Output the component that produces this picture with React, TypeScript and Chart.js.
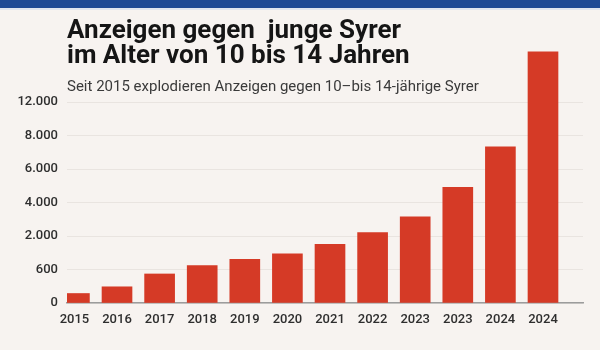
import React, { useEffect, useRef } from "react";
import { Chart, registerables } from "chart.js";

Chart.register(...registerables);

const years = ["2015", "2016", "2017", "2018", "2019", "2020", "2021", "2022", "2023", "2023", "2024", "2024"];
const reports = [170, 290, 520, 760, 1030, 1250, 1650, 2200, 3150, 4900, 7330, 18000];
const yTickValues = [0, 600, 2000, 4000, 6000, 8000, 12000];
const yTickLabels = ["0", "600", "2.000", "4.000", "6.000", "8.000", "12.000"];

const titleLines = ["Anzeigen gegen\u00a0 junge Syrer", "im Alter von 10 bis 14 Jahren"];
const subtitle = "Seit 2015 explodieren Anzeigen gegen 10–bis 14-jährige Syrer";

// The printed axis is evenly spaced between unevenly valued ticks: map a value to its tick position.
function toAxisPos(v: number): number {
  const t = yTickValues;
  for (let i = 1; i < t.length; i++) {
    if (v <= t[i]) return i - 1 + (v - t[i - 1]) / (t[i] - t[i - 1]);
  }
  const n = t.length - 1;
  return n + (v - t[n]) / (t[n] - t[n - 1]);
}

const FONT = "Roboto, 'Noto Sans', sans-serif";

export default function App() {
  const ref = useRef<HTMLCanvasElement | null>(null);

  useEffect(() => {
    if (!ref.current) return;
    const chart = new Chart(ref.current, {
      type: "bar",
      data: {
        datasets: [
          {
            data: reports.map((v, i) => ({ x: i, y: toAxisPos(v) })),
            backgroundColor: "#d53a26",
            borderWidth: 0,
            barThickness: 30,
          },
        ],
      },
      options: {
        animation: false,
        responsive: false,
        maintainAspectRatio: false,
        layout: { padding: { top: 48, right: 17, left: 0, bottom: 0 } },
        plugins: { legend: { display: false }, tooltip: { enabled: false }, title: { display: false } },
        scales: {
          x: {
            type: "linear",
            offset: false,
            min: -0.174,
            max: 11.939,
            grid: { display: false, drawTicks: false, offset: false },
            border: { display: true, color: "#9c9c9c", width: 1.5 },
            afterBuildTicks: (scale: any) => {
              scale.ticks = years.map((_, i) => ({ value: i }));
            },
            afterFit: (scale: any) => {
              scale.height = 47;
              scale.paddingLeft = 0;
              scale.paddingRight = 0;
            },
            ticks: {
              autoSkip: false,
              maxRotation: 0,
              padding: 9,
              color: "#2e2e2e",
              font: { family: FONT, size: 13, weight: "500" },
              callback: (_v: any, i: number) => years[i],
            },
          },
          y: {
            type: "linear",
            min: 0,
            max: 7.612,
            grid: { color: "#e9e4e0", lineWidth: 1, drawTicks: false },
            border: { display: false },
            afterBuildTicks: (scale: any) => {
              scale.ticks = yTickValues.map((_, i) => ({ value: i }));
            },
            afterFit: (scale: any) => {
              scale.width = 67;
              scale.paddingTop = 0;
              scale.paddingBottom = 0;
            },
            ticks: {
              padding: 9,
              color: "#2e2e2e",
              font: { family: FONT, size: 13, weight: "500" },
              callback: (_v: any, i: number) => yTickLabels[i],
            },
          },
        },
      } as any,
    });
    return () => chart.destroy();
  }, []);

  return (
    <div
      style={{
        position: "fixed",
        left: 0,
        top: 0,
        width: 600,
        height: 350,
        background: "#f7f3f0",
        overflow: "hidden",
        fontFamily: FONT,
      }}
    >
      <div style={{ position: "absolute", left: 0, top: 0, width: 600, height: 8, background: "#1e4a95" }} />
      <div style={{ position: "absolute", left: 0, top: 8, width: 600, height: 2, background: "#dfe5ef" }} />
      <canvas ref={ref} width={600} height={350} style={{ position: "absolute", left: 0, top: 0, width: 600, height: 350 }} />
      <div
        style={{
          position: "absolute",
          left: 67,
          top: 17,
          fontSize: 26,
          lineHeight: "25px",
          fontWeight: 700,
          color: "#151515",
          whiteSpace: "pre",
        }}
      >
        {titleLines.map((l, i) => (
          <div key={i}>{l}</div>
        ))}
      </div>
      <div
        style={{
          position: "absolute",
          left: 67,
          top: 78,
          fontSize: 15,
          lineHeight: "17px",
          color: "#3a3a3a",
          whiteSpace: "pre",
        }}
      >
        {subtitle}
      </div>
    </div>
  );
}
